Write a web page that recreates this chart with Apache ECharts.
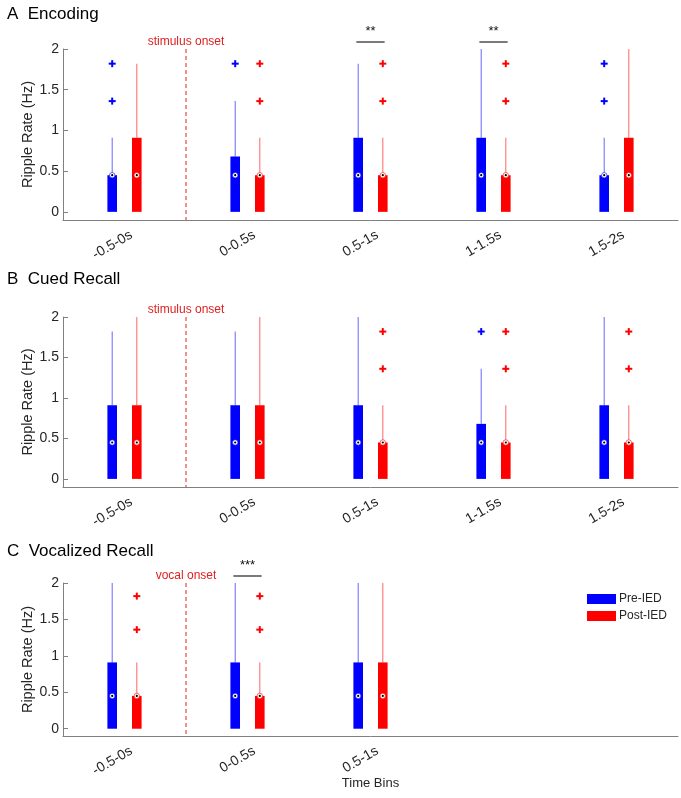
<!DOCTYPE html>
<html>
<head>
<meta charset="utf-8">
<script src="https://cdn.jsdelivr.net/npm/echarts@6/dist/echarts.min.js"></script>
<style>
  html, body { margin: 0; padding: 0; background: #fff; }
  #chart { width: 681px; height: 798px; }
</style>
</head>
<body>
<div id="chart"></div>
<script>
// time bins
const bins = ["-0.5-0s", "0-0.5s", "0.5-1s", "1-1.5s", "1.5-2s"];
const vocalBins = ["-0.5-0s", "0-0.5s", "0.5-1s"];
const yTicks = [0, 0.5, 1, 1.5, 2];

// box stats per bin: [low, q1, median, q3, high]
const encodingPre = [[0, 0, 0.45, 0.45, 0.91], [0, 0, 0.45, 0.68, 1.36], [0, 0, 0.45, 0.91, 1.82], [0, 0, 0.45, 0.91, 2], [0, 0, 0.45, 0.45, 0.91]];
const encodingPreOut = [[1.36, 1.82], [1.82], [], [], [1.36, 1.82]];
const encodingPost = [[0, 0, 0.45, 0.91, 1.82], [0, 0, 0.45, 0.45, 0.91], [0, 0, 0.45, 0.45, 0.91], [0, 0, 0.45, 0.45, 0.91], [0, 0, 0.45, 0.91, 2]];
const encodingPostOut = [[], [1.36, 1.82], [1.36, 1.82], [1.36, 1.82], []];

const cuedPre = [[0, 0, 0.45, 0.91, 1.82], [0, 0, 0.45, 0.91, 1.82], [0, 0, 0.45, 0.91, 2], [0, 0, 0.45, 0.68, 1.36], [0, 0, 0.45, 0.91, 2]];
const cuedPreOut = [[], [], [], [1.82], []];
const cuedPost = [[0, 0, 0.45, 0.91, 2], [0, 0, 0.45, 0.91, 2], [0, 0, 0.45, 0.45, 0.91], [0, 0, 0.45, 0.45, 0.91], [0, 0, 0.45, 0.45, 0.91]];
const cuedPostOut = [[], [], [1.36, 1.82], [1.36, 1.82], [1.36, 1.82]];

const vocalPre = [[0, 0, 0.45, 0.91, 2], [0, 0, 0.45, 0.91, 2], [0, 0, 0.45, 0.91, 2]];
const vocalPreOut = [[], [], []];
const vocalPost = [[0, 0, 0.45, 0.45, 0.91], [0, 0, 0.45, 0.45, 0.91], [0, 0, 0.45, 0.91, 2]];
const vocalPostOut = [[1.36, 1.82], [1.36, 1.82], []];

// significance marks: bin index and stars
const encodingSig = [[2, "**"], [3, "**"]];
const cuedSig = [];
const vocalSig = [[1, "***"]];

const BLUE = "#0000ff";
const RED = "#ff0000";
const AXIS = "#808080";
const TEXT = "#262626";
const FONT = "'Liberation Sans', Arial, sans-serif";

function boxSeries(name, color, idx, stats, outliers, side) {
  return {
    type: "custom",
    name,
    xAxisIndex: idx,
    yAxisIndex: idx,
    itemStyle: { color },
    data: stats.map((s, i) => [i, ...s]),
    encode: { x: 0, y: [1, 2, 3, 4, 5] },
    renderItem(params, api) {
      const i = api.value(0);
      const band = api.size([1, 0])[0];
      const cx = api.coord([i, 0])[0] + side * band * 0.1;
      const y = (k) => api.coord([i, api.value(k)])[1];
      const w = band * 0.078;
      const children = [
        { type: "line", shape: { x1: cx, y1: y(4), x2: cx, y2: y(5) }, style: { stroke: color, opacity: 0.55, lineWidth: 1.1 } },
        { type: "line", shape: { x1: cx, y1: y(1), x2: cx, y2: y(2) }, style: { stroke: color, opacity: 0.55, lineWidth: 1.1 } },
        { type: "rect", shape: { x: cx - w / 2, y: y(4), width: w, height: y(2) - y(4) }, style: { fill: color } },
      ];
      outliers[params.dataIndex].forEach((v) => {
        const oy = api.coord([i, v])[1];
        children.push({ type: "line", shape: { x1: cx - 3.5, y1: oy, x2: cx + 3.5, y2: oy }, style: { stroke: color, lineWidth: 2 } });
        children.push({ type: "line", shape: { x1: cx, y1: oy - 3.5, x2: cx, y2: oy + 3.5 }, style: { stroke: color, lineWidth: 2 } });
      });
      const my = y(3);
      children.push({ type: "circle", shape: { cx, cy: my, r: 2.7 }, style: { fill: "#fff", stroke: color, lineWidth: 0.6 } });
      children.push({ type: "circle", shape: { cx, cy: my, r: 1.1 }, style: { fill: "#000" } });
      return { type: "group", children };
    },
  };
}

function annotationSeries(idx, onsetText, sig) {
  return {
    type: "custom",
    xAxisIndex: idx,
    yAxisIndex: idx,
    silent: true,
    data: [[0]],
    renderItem(params, api) {
      const band = api.size([1, 0])[0];
      const x = (api.coord([0, 0])[0] + api.coord([1, 0])[0]) / 2;
      const top = api.coord([0, 2])[1];
      const bottom = api.coord([0, -0.1])[1];
      const children = [
        { type: "line", shape: { x1: x, y1: top, x2: x, y2: bottom }, style: { stroke: "#e02020", lineWidth: 1, lineDash: [4, 3] } },
        { type: "text", style: { text: onsetText, x, y: top - 7, align: "center", verticalAlign: "middle", fill: "#e02020", font: "12px " + FONT } },
      ];
      sig.forEach(([b, stars]) => {
        const cx = api.coord([b, 0])[0];
        const ly = top - 7;
        children.push({ type: "line", shape: { x1: cx - band * 0.115, y1: ly, x2: cx + band * 0.115, y2: ly }, style: { stroke: "#222", lineWidth: 1.2 } });
        children.push({ type: "text", style: { text: stars, x: cx, y: ly - 11, align: "center", verticalAlign: "middle", fill: "#111", font: "13px " + FONT } });
      });
      return { type: "group", children };
    },
  };
}

const grids = [
  { left: 63, right: 3, top: 49, height: 171 },
  { left: 63, right: 3, top: 317, height: 170 },
  { left: 63, right: 3, top: 583, height: 153 },
];

function xAxis(idx, labels, shown) {
  return {
    type: "category",
    gridIndex: idx,
    data: labels,
    boundaryGap: true,
    axisLine: { onZero: false, lineStyle: { color: AXIS } },
    axisTick: { inside: true, length: 5, alignWithLabel: true, interval: (i) => i < shown, lineStyle: { color: AXIS } },
    axisLabel: { rotate: 30, fontSize: 14, color: TEXT, fontFamily: FONT, margin: 18, interval: 0, padding: [0, -8, 0, 0] },
    splitLine: { show: false },
  };
}

function yAxis(idx) {
  return {
    type: "value",
    gridIndex: idx,
    min: -0.1,
    max: 2,
    name: "Ripple Rate (Hz)",
    nameLocation: "middle",
    nameGap: 28,
    nameMoveOverlap: false,
    nameTextStyle: { fontSize: 14.5, color: TEXT, fontFamily: FONT },
    axisLine: { show: true, lineStyle: { color: AXIS } },
    axisTick: { show: true, inside: true, length: 5, customValues: yTicks, lineStyle: { color: AXIS } },
    axisLabel: { fontSize: 14, color: TEXT, fontFamily: FONT, margin: 4, customValues: yTicks },
    splitLine: { show: false },
  };
}

const padded = vocalBins.concat(["", ""]);

const chart = echarts.init(document.getElementById("chart"), null, { renderer: "canvas" });
chart.setOption({
  animation: false,
  textStyle: { fontFamily: FONT },
  title: [
    { text: "A  Encoding", left: 2, top: 1, textStyle: { fontSize: 17, fontWeight: "normal", color: "#000", fontFamily: FONT } },
    { text: "B  Cued Recall", left: 2, top: 266, textStyle: { fontSize: 17, fontWeight: "normal", color: "#000", fontFamily: FONT } },
    { text: "C  Vocalized Recall", left: 2, top: 538, textStyle: { fontSize: 17, fontWeight: "normal", color: "#000", fontFamily: FONT } },
  ],
  legend: {
    data: ["Pre-IED", "Post-IED"],
    orient: "vertical",
    left: 587,
    top: 593,
    icon: "rect",
    itemWidth: 29,
    itemHeight: 10,
    itemGap: 5,
    padding: 0,
    textStyle: { fontSize: 12, color: TEXT, fontFamily: FONT, padding: [0, 0, 0, -2] },
  },
  grid: grids,
  xAxis: [
    xAxis(0, bins, 5),
    xAxis(1, bins, 5),
    Object.assign(xAxis(2, padded, 3), {
      name: "Time Bins",
      nameLocation: "middle",
      nameGap: 41,
      nameMoveOverlap: false,
      nameTextStyle: { fontSize: 13, color: TEXT, fontFamily: FONT },
    }),
  ],
  yAxis: [yAxis(0), yAxis(1), yAxis(2)],
  series: [
    boxSeries("Pre-IED", BLUE, 0, encodingPre, encodingPreOut, -1),
    boxSeries("Post-IED", RED, 0, encodingPost, encodingPostOut, 1),
    annotationSeries(0, "stimulus onset", encodingSig),
    boxSeries("Pre-IED", BLUE, 1, cuedPre, cuedPreOut, -1),
    boxSeries("Post-IED", RED, 1, cuedPost, cuedPostOut, 1),
    annotationSeries(1, "stimulus onset", cuedSig),
    boxSeries("Pre-IED", BLUE, 2, vocalPre, vocalPreOut, -1),
    boxSeries("Post-IED", RED, 2, vocalPost, vocalPostOut, 1),
    annotationSeries(2, "vocal onset", vocalSig),
  ],
});
</script>
</body>
</html>
